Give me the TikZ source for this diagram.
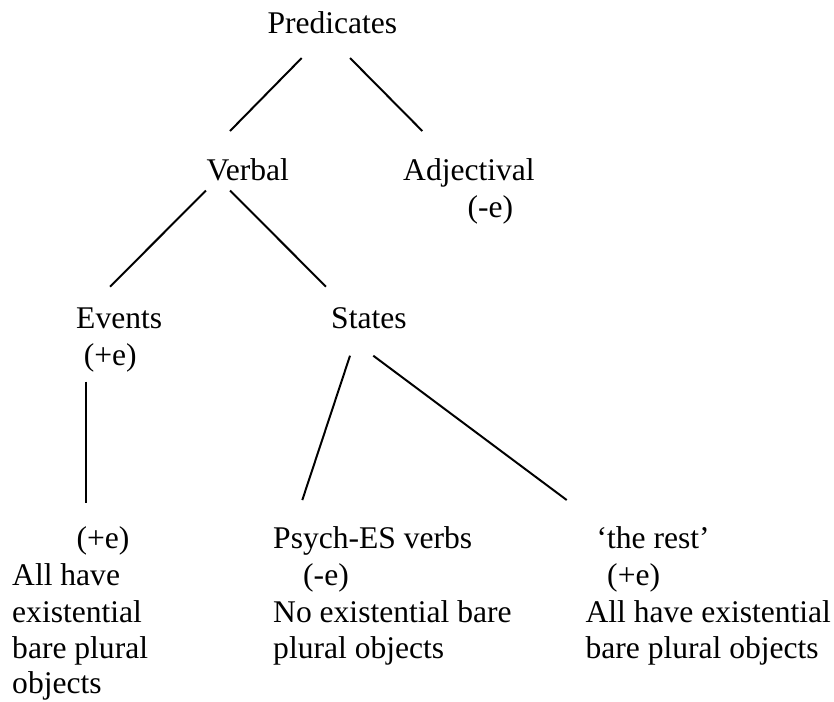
\documentclass[tikz,border=0pt]{standalone}
\usepackage{fontspec}
\setmainfont{Liberation Serif}
\begin{document}
\begin{tikzpicture}[x=0.3802pt,y=-0.3802pt,
  lbl/.style={anchor=base west,inner sep=0pt,font=\fontsize{12}{13.8}\selectfont},
  edge/.style={line width=0.75pt,line cap=butt}]
\useasboundingbox (0,0) rectangle (834,701);

% labels of the tree
\node[lbl] (pred)    at (267,33)    {Predicates};
\node[lbl] (verbal)  at (206,180)   {Verbal};
\node[lbl] (adj)     at (402.7,180) {Adjectival};
\node[lbl] (adjE)    at (467,217)   {(-e)};
\node[lbl] (events)  at (75.7,328)  {Events};
\node[lbl] (eventsE) at (83.3,365)  {(+e)};
\node[lbl] (states)  at (330.7,328) {States};

% leaves
\node[lbl] (leafE)   at (76,548)    {(+e)};
\node[lbl] (leafA)   at (11.7,585)  {All have};
\node[lbl] (leafB)   at (11.7,622)  {existential};
\node[lbl] (leafC)   at (11.7,658)  {bare plural};
\node[lbl] (leafD)   at (11.7,693)  {objects};

\node[lbl] (psych)   at (272.7,548) {Psych-ES verbs};
\node[lbl] (psychE)  at (302.7,585) {(-e)};
\node[lbl] (psychA)  at (272.7,622) {No existential bare};
\node[lbl] (psychB)  at (272.7,658) {plural objects};

\node[lbl] (rest)    at (596,548)   {‘the rest’};
\node[lbl] (restE)   at (606.7,585) {(+e)};
\node[lbl] (restA)   at (585,622)   {All have existential};
\node[lbl] (restB)   at (585,658)   {bare plural objects};

% end points of the branches
\coordinate (pv1) at (301.7,58);  \coordinate (pv2) at (230,131);
\coordinate (pa1) at (350,58);    \coordinate (pa2) at (422.3,131);
\coordinate (ve1) at (206,190.5); \coordinate (ve2) at (110,286.7);
\coordinate (vs1) at (230,190.5); \coordinate (vs2) at (326,286.7);
\coordinate (ev1) at (86,381.7);  \coordinate (ev2) at (86,503.3);
\coordinate (sp1) at (350,355.7); \coordinate (sp2) at (302.3,500);
\coordinate (sr1) at (373.3,355.7); \coordinate (sr2) at (566.7,500);

% branches
\draw[edge] (pv1) -- (pv2);
\draw[edge] (pa1) -- (pa2);
\draw[edge] (ve1) -- (ve2);
\draw[edge] (vs1) -- (vs2);
\draw[edge] (ev1) -- (ev2);
\draw[edge] (sp1) -- (sp2);
\draw[edge] (sr1) -- (sr2);
\end{tikzpicture}
\end{document}
